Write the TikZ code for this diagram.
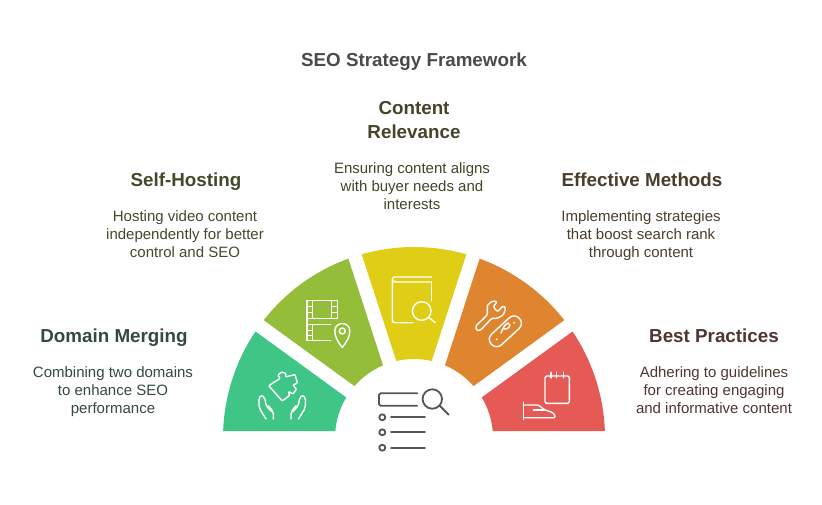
\documentclass[tikz,border=0pt]{standalone}
\usepackage{fontspec}
\setmainfont{Liberation Sans}
\usetikzlibrary{calc}

\definecolor{greenseg}{HTML}{3FC687}
\definecolor{oliveseg}{HTML}{94BD3A}
\definecolor{yellowseg}{HTML}{E0CD15}
\definecolor{orangeseg}{HTML}{DF8530}
\definecolor{redseg}{HTML}{E65A55}
\definecolor{titletext}{HTML}{4A4A4A}
\definecolor{greentext}{HTML}{34493F}
\definecolor{olivetext}{HTML}{414A2B}
\definecolor{yellowtext}{HTML}{45432A}
\definecolor{orangetext}{HTML}{4A3D2B}
\definecolor{redtext}{HTML}{4F3533}
\definecolor{hubgray}{HTML}{555555}

\tikzset{
    heading/.style={font=\bfseries\fontsize{18.8}{24}\selectfont, align=center, text depth=4pt},
    blurb/.style={font=\fontsize{15}{18}\selectfont, align=center, text depth=3.5pt},
    icon/.style={white, line width=1.4pt, line cap=round, line join=round},
    hubicon/.style={hubgray, line width=1.8pt, line cap=round, line join=round}
}

\begin{document}
\begin{tikzpicture}[x=1pt, y=-1pt]
        \useasboundingbox (0,0) rectangle (822,504);
        \coordinate (hub) at (414,438);

        % Segments.
        \fill[greenseg] ($(hub)+(-177.9:191)$) arc[start angle=-177.9, end angle=-146.1, radius=191] -- ($(hub)+(-149.08:79)$) arc[start angle=-149.08, end angle=-174.92, radius=79] -- cycle;
        \fill[oliveseg] ($(hub)+(-141.9:191)$) arc[start angle=-141.9, end angle=-110.1, radius=191] -- ($(hub)+(-113.08:79)$) arc[start angle=-113.08, end angle=-138.92, radius=79] -- cycle;
        \fill[yellowseg] ($(hub)+(-105.9:191)$) arc[start angle=-105.9, end angle=-74.1, radius=191] -- ($(hub)+(-77.08:79)$) arc[start angle=-77.08, end angle=-102.92, radius=79] -- cycle;
        \fill[orangeseg] ($(hub)+(-69.9:191)$) arc[start angle=-69.9, end angle=-38.1, radius=191] -- ($(hub)+(-41.08:79)$) arc[start angle=-41.08, end angle=-66.92, radius=79] -- cycle;
        \fill[redseg] ($(hub)+(-33.9:191)$) arc[start angle=-33.9, end angle=-2.1, radius=191] -- ($(hub)+(-5.08:79)$) arc[start angle=-5.08, end angle=-30.92, radius=79] -- cycle;

        % Title and texts.
        \node[heading, text=titletext] (title) at (414,62) {SEO Strategy Framework};
        \node[heading, text=greentext] (domainhead) at (114,338) {Domain Merging};
        \node[blurb, text=greentext] (domainblurb) at (113,392) {Combining two domains\\to enhance SEO\\performance};
        \node[heading, text=olivetext] (hostinghead) at (186,182) {Self-Hosting};
        \node[blurb, text=olivetext] (hostingblurb) at (185,236) {Hosting video content\\independently for better\\control and SEO};
        \node[heading, text=yellowtext] (contenthead) at (414,122) {Content\\Relevance};
        \node[blurb, text=yellowtext] (contentblurb) at (412,188) {Ensuring content aligns\\with buyer needs and\\interests};
        \node[heading, text=orangetext] (methodshead) at (642,182) {Effective Methods};
        \node[blurb, text=orangetext] (methodsblurb) at (641,236) {Implementing strategies\\that boost search rank\\through content};
        \node[heading, text=redtext] (practiceshead) at (714,338) {Best Practices};
        \node[blurb, text=redtext] (practicesblurb) at (714,392) {Adhering to guidelines\\for creating engaging\\and informative content};

        % Puzzle and hands.
        \draw[icon, rounded corners=0.8] (268.7,385.7) -- (280,378.5) -- (278,375) -- (281.5,372) -- (286,373.5) -- (285.5,377) -- (295,374.5) -- (297.5,383) -- (293,385) -- (296.5,389) -- (293,394) -- (288.5,391.5) -- (289.5,395.5) -- (282.3,401) -- cycle;
        \draw[icon, rounded corners=2] (266,419) -- (259.3,408.3) -- (258.7,398.3) -- (261.7,395) -- (265,398.3) -- (266,405.7) -- (271.7,411.7);
        \draw[icon, rounded corners=2] (273.3,419) -- (273.3,411.7) -- (268.3,405.7);
        \draw[icon, rounded corners=2] (298.4,419) -- (305.1,408.3) -- (305.7,398.3) -- (302.7,395) -- (299.4,398.3) -- (298.4,405.7) -- (292.7,411.7);
        \draw[icon, rounded corners=2] (291.1,419) -- (291.1,411.7) -- (296.1,405.7);

        % Film and pin.
        \draw[icon] (307,300.5) rectangle (337.5,318.5);
        \draw[icon] (312.3,300.5) -- (312.3,318.5) (331.7,300.5) -- (331.7,318.5);
        \draw[icon] (307,306.5) -- (312.3,306.5) (307,312.5) -- (312.3,312.5) (331.7,306.5) -- (337.5,306.5) (331.7,312.5) -- (337.5,312.5);
        \draw[icon] (307,318.5) -- (307,340.7) -- (330.7,340.7) (307,324.7) -- (330.7,324.7) (312.3,324.7) -- (312.3,340.7);
        \draw[icon] (307,330.7) -- (312.3,330.7) (307,335.7) -- (312.3,335.7);
        \draw[icon] (342.3,347.5) .. controls (338,342) and (334.8,337) .. (334.8,331) .. controls (334.8,326.5) and (338,323.5) .. (342.3,323.5) .. controls (346.6,323.5) and (349.8,326.5) .. (349.8,331) .. controls (349.8,337) and (346.6,342) .. (342.3,347.5) -- cycle;
        \draw[icon] (342.3,331) circle (3);

        % Book and lens.
        \draw[icon, rounded corners=2.5] (413,322.7) -- (392.3,322.7) -- (392.3,277) -- (431.7,277);
        \draw[icon] (431.7,282) -- (396,282) .. controls (393.5,282) and (392.3,281) .. (392.3,279.5);
        \draw[icon] (431.7,282) -- (431.7,301);
        \draw[icon] (421.7,311) circle (9.3);
        \draw[icon] (428.6,317.2) -- (435.3,322.7);

        % Wrench and knife.
        \draw[icon, rounded corners=1.2] (475.7,326) -- (487.3,315) -- (487.3,305) -- (492.7,301) -- (497.3,301.7) -- (493.3,306.7) -- (497.3,311.7) -- (503.3,305.7) -- (505.7,308.3) -- (503.3,315) -- (497.3,318.3) -- (491.7,318.3) -- (480.7,330) -- (476.7,330.7) -- cycle;
        \draw[icon] (501.65,344.65) -- (518.95,328.65) .. controls (526.08,322.05) and (516.18,311.35) .. (509.05,317.95) -- (491.75,333.95) .. controls (484.62,340.55) and (494.52,351.25) .. (501.65,344.65) -- cycle;
        \draw[icon] (501,333) .. controls (503,328) and (505,324) .. (508,323) .. controls (512,325) and (509,330) .. (503,329);
        \fill[white] (496.7,339.3) circle (1.1) (514,322.7) circle (1.1);

        % Notepad and wedge.
        \draw[icon, rounded corners=1.5] (545,376) rectangle (569.3,403.3);
        \draw[icon] (551,372.3) -- (551,378) (556.7,372.3) -- (556.7,378) (563.3,372.3) -- (563.3,378);
        \draw[icon] (523.3,402.3) -- (523.3,419.3);
        \draw[icon, rounded corners=1.5] (523.3,405) -- (538.3,405) -- (545,410) -- (553.3,412.7) -- (555.7,417.7) -- (523.3,417.7);
        \draw[icon] (533.3,410) -- (545,410);

        % Hub.
        \draw[hubicon, rounded corners=1.5] (417.3,393.3) -- (379,393.3) -- (379,405.7) -- (417.3,405.7);
        \draw[hubicon] (432.3,399) circle (9.7);
        \draw[hubicon] (439.5,405.5) -- (448.7,414.7);
        \draw[hubicon] (382.3,417.3) circle (3) (382.3,432.3) circle (3) (382.3,447.7) circle (3);
        \draw[hubicon] (391,417.3) -- (425,417.3) (391,432.3) -- (425,432.3) (391,447.7) -- (425,447.7);
    \end{tikzpicture}
\end{document}
